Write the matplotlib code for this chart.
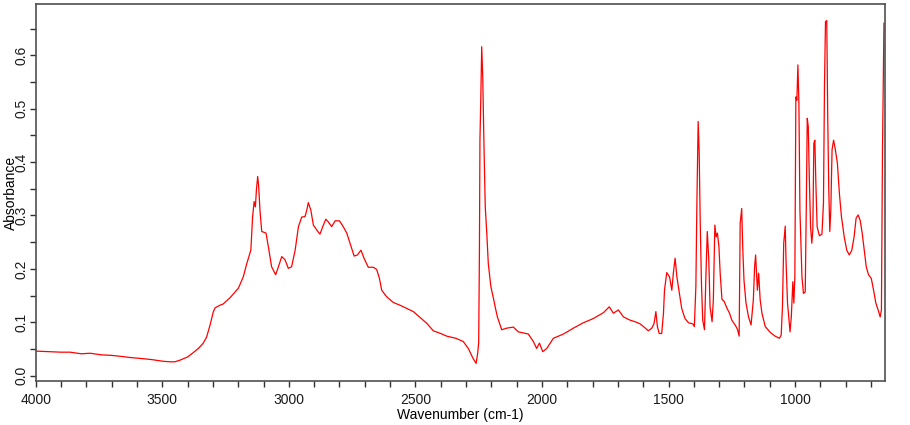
import matplotlib
matplotlib.use("Agg")
import matplotlib.pyplot as plt
from matplotlib.ticker import FuncFormatter
import numpy as np

plt.rcParams['font.family'] = ['Liberation Sans', 'DejaVu Sans']

# IR spectrum: wavenumber (cm-1) and absorbance
wavenumber = [
    4000, 3950, 3900, 3864, 3820, 3785, 3740, 3700, 3660, 3627, 3580, 3540,
    3497, 3470, 3450, 3430, 3400, 3378, 3355, 3338, 3325, 3311, 3298, 3291,
    3272, 3260, 3232, 3199, 3180, 3166, 3150, 3143, 3137, 3132, 3128, 3123,
    3119, 3114, 3107, 3090, 3081, 3068, 3052, 3041, 3028, 3015, 3002, 2989,
    2975, 2962, 2949, 2936, 2929, 2923, 2913, 2903, 2890, 2877, 2866, 2854,
    2844, 2831, 2817, 2800, 2785, 2771, 2758, 2742, 2729, 2715, 2703, 2686,
    2666, 2653, 2642, 2633, 2614, 2587, 2561, 2535, 2508, 2469, 2455, 2429,
    2400, 2376, 2340, 2311, 2291, 2273, 2260, 2254, 2250, 2247, 2245, 2242,
    2238, 2234, 2229, 2224, 2218, 2212, 2202, 2189, 2185, 2176, 2159, 2139,
    2113, 2093, 2054, 2034, 2021, 2010, 1997, 1981, 1955, 1915, 1876, 1837,
    1797, 1757, 1734, 1718, 1698, 1678, 1652, 1632, 1612, 1599, 1580, 1566,
    1557, 1550, 1544, 1537, 1527, 1520, 1516, 1507, 1496, 1487, 1481, 1474,
    1467, 1457, 1448, 1435, 1421, 1404, 1398, 1392, 1388, 1383, 1379, 1375,
    1370, 1365, 1358, 1352, 1347, 1341, 1336, 1328, 1323, 1317, 1312, 1307,
    1301, 1296, 1289, 1280, 1269, 1259, 1250, 1237, 1228, 1221, 1217, 1211,
    1207, 1202, 1194, 1184, 1174, 1165, 1160, 1156, 1149, 1144, 1138, 1131,
    1118, 1098, 1079, 1062, 1055, 1050, 1045, 1039, 1036, 1030, 1024, 1020,
    1015, 1009, 1005, 1001, 997, 993, 989, 985, 981, 977, 973, 967,
    960, 956, 952, 948, 944, 939, 934, 930, 926, 922, 918, 913,
    904, 894, 888, 884, 880, 875, 871, 867, 863, 859, 854, 848,
    842, 833, 825, 817, 806, 796, 786, 776, 767, 759, 751, 743,
    735, 727, 719, 710, 699, 690, 681, 670, 664, 659, 655, 649,
]
absorbance = [
    0.046, 0.045, 0.044, 0.044, 0.041, 0.042, 0.039, 0.038, 0.036, 0.034, 0.032, 0.030,
    0.027, 0.026, 0.026, 0.029, 0.035, 0.043, 0.052, 0.061, 0.072, 0.095, 0.120, 0.127,
    0.132, 0.134, 0.146, 0.164, 0.185, 0.210, 0.235, 0.298, 0.326, 0.316, 0.348, 0.373,
    0.354, 0.310, 0.270, 0.267, 0.242, 0.204, 0.189, 0.204, 0.223, 0.217, 0.201, 0.204,
    0.235, 0.279, 0.297, 0.298, 0.310, 0.324, 0.310, 0.282, 0.273, 0.265, 0.279, 0.293,
    0.288, 0.279, 0.290, 0.290, 0.279, 0.267, 0.248, 0.224, 0.226, 0.235, 0.220, 0.203,
    0.203, 0.199, 0.182, 0.160, 0.148, 0.137, 0.132, 0.126, 0.120, 0.104, 0.098, 0.084,
    0.079, 0.074, 0.070, 0.064, 0.051, 0.033, 0.023, 0.042, 0.061, 0.235, 0.441, 0.510,
    0.616, 0.560, 0.429, 0.316, 0.267, 0.210, 0.167, 0.139, 0.129, 0.110, 0.086, 0.089,
    0.091, 0.082, 0.078, 0.064, 0.051, 0.061, 0.045, 0.051, 0.070, 0.078, 0.089, 0.099,
    0.107, 0.118, 0.129, 0.117, 0.123, 0.110, 0.104, 0.101, 0.097, 0.092, 0.084, 0.089,
    0.098, 0.120, 0.092, 0.079, 0.079, 0.117, 0.160, 0.193, 0.185, 0.160, 0.192, 0.220,
    0.185, 0.154, 0.126, 0.107, 0.099, 0.097, 0.092, 0.167, 0.323, 0.476, 0.419, 0.292,
    0.173, 0.104, 0.086, 0.192, 0.270, 0.217, 0.129, 0.101, 0.142, 0.282, 0.260, 0.267,
    0.242, 0.192, 0.143, 0.139, 0.126, 0.117, 0.104, 0.095, 0.087, 0.074, 0.285, 0.313,
    0.242, 0.179, 0.136, 0.110, 0.095, 0.142, 0.204, 0.226, 0.160, 0.192, 0.142, 0.117,
    0.092, 0.081, 0.074, 0.070, 0.076, 0.129, 0.248, 0.280, 0.217, 0.136, 0.104, 0.082,
    0.110, 0.176, 0.136, 0.185, 0.522, 0.516, 0.582, 0.510, 0.310, 0.248, 0.185, 0.154,
    0.157, 0.310, 0.482, 0.466, 0.373, 0.279, 0.248, 0.273, 0.435, 0.441, 0.360, 0.279,
    0.262, 0.265, 0.323, 0.541, 0.663, 0.665, 0.479, 0.348, 0.270, 0.310, 0.423, 0.441,
    0.426, 0.398, 0.341, 0.298, 0.260, 0.235, 0.226, 0.235, 0.260, 0.295, 0.301, 0.291,
    0.267, 0.235, 0.204, 0.189, 0.182, 0.160, 0.136, 0.120, 0.110, 0.123, 0.416, 0.660,
]

x_ticks = np.arange(700, 4001, 100)
y_ticks = np.arange(0, 0.66, 0.05)

fig = plt.figure(figsize=(9.1, 4.25), dpi=100)
ax = fig.add_axes([0.0392, 0.1035, 0.9333, 0.8871])

ax.plot(wavenumber, absorbance, color='#ff0000', lw=0.9)

ax.set_xlim(4000, 645)
ax.set_ylim(-0.01, 0.696)

# ticks every 100 / 0.05, labels only on the round ones
ax.set_xticks(x_ticks)
ax.xaxis.set_major_formatter(FuncFormatter(
    lambda v, p: f"{int(round(v))}" if round(v) % 500 == 0 else ""))
ax.set_yticks(y_ticks)
ax.yaxis.set_major_formatter(FuncFormatter(
    lambda v, p: f"{v:.1f}" if round(v * 100) % 10 == 0 else ""))

ax.tick_params(axis='both', direction='out', length=4.5, width=1,
               color='#303030', labelsize=10, labelcolor='#1a1a1a')
ax.tick_params(axis='x', pad=4)
ax.tick_params(axis='y', pad=1)
for lab in ax.get_yticklabels():
    lab.set_rotation(90)
    lab.set_va('center')

for s in ax.spines.values():
    s.set_color('#505050')
    s.set_linewidth(1.2)

ax.set_xlabel("Wavenumber (cm-1)", fontsize=10, labelpad=1)
ax.set_ylabel("Absorbance", fontsize=10)
# label sits over the tick labels, as in the instrument export
ax.yaxis.set_label_coords(-0.021, 0.5)

fig.savefig("out.png", dpi=100)
